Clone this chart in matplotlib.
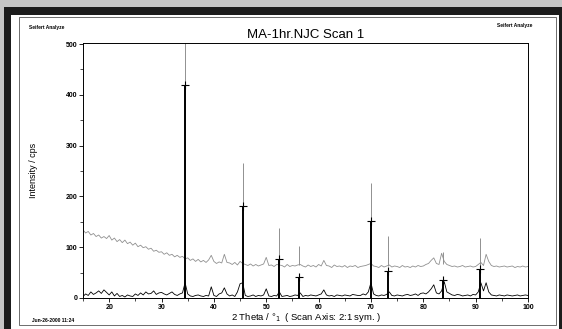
import numpy as np
import matplotlib.pyplot as plt
from matplotlib.patches import Rectangle
from matplotlib.ticker import MultipleLocator

plt.rcParams['font.family'] = ['Liberation Sans', 'DejaVu Sans']

# scan grid, 0.5 deg steps from 15 to 100
two_theta = np.linspace(15, 100, 171)

# raw scan (grey trace)
raw_cps = [
    134, 128, 131, 124, 127, 121, 124, 118, 121, 117,
    123, 114, 118, 111, 115, 109, 114, 107, 110, 104,
    108, 101, 104, 99, 101, 96, 98, 92, 94, 90,
    91, 86, 89, 84, 86, 81, 84, 80, 82, 77,
    79, 74, 77, 72, 76, 71, 74, 70, 75, 84,
    72, 68, 71, 69, 86, 70, 69, 66, 70, 65,
    72, 68, 66, 64, 67, 63, 66, 63, 65, 67,
    80, 64, 65, 62, 66, 65, 64, 61, 66, 62,
    64, 63, 65, 66, 63, 61, 65, 62, 64, 61,
    66, 63, 74, 64, 63, 60, 65, 62, 63, 61,
    64, 60, 63, 62, 64, 60, 62, 63, 64, 66,
    68, 63, 62, 60, 64, 61, 63, 65, 61, 63,
    62, 60, 64, 61, 62, 60, 63, 61, 64, 62,
    63, 66, 68, 74, 79, 68, 66, 88, 72, 66,
    64, 62, 63, 61, 62, 64, 61, 62, 63, 61,
    62, 66, 70, 64, 86, 72, 64, 62, 63, 61,
    62, 63, 61, 62, 63, 60, 62, 61, 63, 61,
    62,
]

# background-subtracted scan (black trace)
net_cps = [
    3, 8, 5, 12, 7, 10, 14, 9, 16, 11,
    6, 12, 4, 9, 3, 5, 2, 6, 4, 3,
    8, 5, 10, 6, 12, 8, 9, 14, 7, 10,
    11, 8, 6, 9, 12, 7, 5, 8, 10, 30,
    8, 4, 3, 5, 6, 4, 3, 5, 4, 22,
    5, 3, 8, 10, 20, 8, 4, 6, 3, 12,
    28, 30, 5, 3, 4, 6, 3, 5, 4, 6,
    18, 4, 3, 5, 4, 12, 3, 4, 5, 3,
    4, 6, 5, 10, 3, 5, 4, 6, 5, 4,
    6, 8, 16, 6, 4, 5, 3, 6, 5, 4,
    6, 5, 4, 7, 6, 5, 5, 8, 6, 12,
    30, 8, 5, 4, 6, 5, 7, 12, 5, 4,
    6, 5, 4, 6, 7, 5, 6, 8, 5, 9,
    10, 8, 12, 18, 26, 10, 8, 14, 32, 12,
    9, 6, 5, 7, 6, 4, 5, 6, 4, 7,
    6, 12, 30, 14, 30, 12, 6, 5, 4, 6,
    5, 4, 6, 5, 4, 5, 6, 4, 5, 6,
    5,
]

# reflections
peak_pos = [34.5, 45.6, 52.5, 56.2, 70.1, 73.3, 83.7, 90.8]
peak_net = [419, 182, 77, 41, 152, 53, 35, 57]
peak_raw_base = [78, 67, 65, 65, 63, 63, 66, 63]
peak_raw_top = [505, 265, 138, 102, 226, 122, 90, 118]

W, H = 562, 329
fig = plt.figure(figsize=(W / 100, H / 100), dpi=100, facecolor='#c6c6c6')


def fx(x):
    return x / W


def fy(y):
    return 1 - y / H


# page frame (kept behind the axes)
fig.patches.append(Rectangle((fx(4), fy(329)), fx(558), 322 / H, transform=fig.transFigure,
                             facecolor='#1c1c1c', edgecolor='none', zorder=-10))
fig.patches.append(Rectangle((fx(11), fy(329)), fx(548), 314 / H, transform=fig.transFigure,
                             facecolor='white', edgecolor='none', zorder=-9))
fig.patches.append(Rectangle((fx(19), fy(325)), fx(537), 308 / H, transform=fig.transFigure,
                             facecolor='none', edgecolor='#555555', lw=0.6, zorder=-8))

ax = fig.add_axes([fx(83), fy(298), (528 - 83) / W, (298 - 43) / H])
ax.set_zorder(5)
ax.patch.set_alpha(0)

ax.plot(two_theta, raw_cps, color='#909090', lw=0.6)
ax.vlines(peak_pos, peak_raw_base, peak_raw_top, color='#909090', lw=0.7)
ax.plot(two_theta, net_cps, color='black', lw=0.6)
ax.vlines(peak_pos, 0, peak_net, color='black', lw=1.4)
ax.plot(peak_pos, peak_net, '+', color='black', ms=6, mew=0.8)

ax.set_xlim(15, 100)
ax.set_ylim(0, 502)
ax.set_xticks(range(20, 101, 10))
ax.xaxis.set_minor_locator(MultipleLocator(5))
ax.set_yticks(range(0, 501, 100))
ax.yaxis.set_minor_locator(MultipleLocator(50))
ax.tick_params(which='major', length=3, width=0.6, labelsize=5, pad=1.2)
ax.tick_params(which='minor', length=2, width=0.5)
for lab in ax.get_xticklabels() + ax.get_yticklabels():
    lab.set_fontweight('bold')
for sp in ax.spines.values():
    sp.set_linewidth(0.7)

fig.text(fx(306), fy(35), 'MA-1hr.NJC Scan 1', ha='center', va='center', fontsize=9.5)
fig.text(fx(29), fy(27), 'Seifert Analyze', ha='left', va='center', fontsize=3.5, fontweight='bold')
fig.text(fx(532), fy(25), 'Seifert Analyze', ha='right', va='center', fontsize=3.5, fontweight='bold')
fig.text(fx(33), fy(170), 'Intensity / cps', rotation=90, ha='center', va='center', fontsize=6.5)
fig.text(fx(306), fy(317), '2 Theta / °$_1$  ( Scan Axis: 2:1 sym. )', ha='center', va='center', fontsize=6.8)
fig.text(fx(32), fy(320), 'Jun-26-2000 11:24', ha='left', va='center', fontsize=3.5, fontweight='bold')

fig.savefig('out.png', dpi=100, facecolor=fig.get_facecolor())
